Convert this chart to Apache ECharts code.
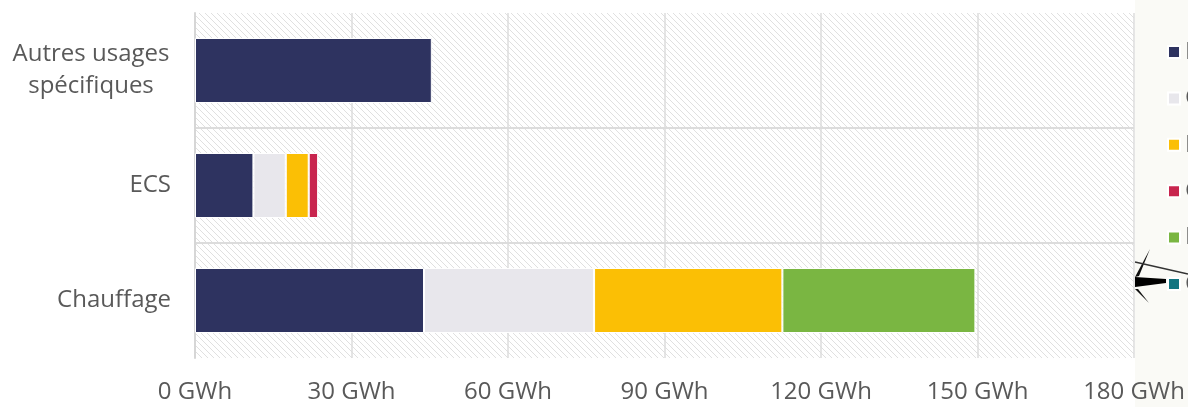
<!DOCTYPE html>
<html>
<head>
<meta charset="utf-8">
<script src="https://cdn.jsdelivr.net/npm/echarts@6/dist/echarts.min.js"></script>
<style>
  html, body { margin: 0; padding: 0; background: #ffffff; }
  #chart { width: 1188px; height: 407px; }
</style>
</head>
<body>
<div id="chart"></div>
<script>
// Consommation d'énergie par usage et par source (GWh)
const categories = ['Chauffage', 'ECS', 'Autres usages\nspécifiques'];
const sourceNames = ['Électricité', 'Gaz naturel', 'Produits pétroliers', 'GPL', 'Bois-énergie', 'Chaleur (réseaux)'];
const sourceColors = ['#2e3360', '#e8e7ec', '#fbbf05', '#c8254e', '#7ab642', '#127580'];
const electricite = [43.9, 11.2, 45.4];
const gazNaturel = [32.6, 6.2, 0];
const produitsPetroliers = [36.1, 4.4, 0];
const gpl = [0, 1.8, 0];
const boisEnergie = [37.0, 0, 0];
const chaleurReseaux = [0, 0, 0];
const xTicks = [0, 30, 60, 90, 120, 150, 180];

const values = [electricite, gazNaturel, produitsPetroliers, gpl, boisEnergie, chaleurReseaux];

// Diagonal hatch used as the plot background
function makeHatch() {
  const c = document.createElement('canvas');
  c.width = 6; c.height = 6;
  const ctx = c.getContext('2d');
  ctx.fillStyle = '#ffffff';
  ctx.fillRect(0, 0, 6, 6);
  ctx.strokeStyle = '#e0e0e0';
  ctx.lineWidth = 1;
  ctx.beginPath();
  ctx.moveTo(-1, -1); ctx.lineTo(7, 7);
  ctx.moveTo(-1, 5); ctx.lineTo(1, 7);
  ctx.moveTo(5, -1); ctx.lineTo(7, 1);
  ctx.stroke();
  return { image: c, repeat: 'repeat' };
}

const font = "'Open Sans', 'Noto Sans', sans-serif";
const chart = echarts.init(document.getElementById('chart'), null, { renderer: 'canvas' });

const series = sourceNames.map((name, i) => ({
  name: name,
  type: 'bar',
  stack: 'total',
  barWidth: 65,
  data: values[i].map(v => (v > 0 ? v : null)),
  itemStyle: { color: sourceColors[i], borderColor: '#ffffff', borderWidth: 1 },
  emphasis: { disabled: true }
}));

// Multi-line category names are centred line by line inside a fixed box
function categoryLabel(value) {
  if (value.indexOf('\n') < 0) return value;
  return value.split('\n').map(line => '{m|' + line + '}').join('\n');
}

chart.setOption({
  animation: false,
  backgroundColor: '#ffffff',
  textStyle: { fontFamily: font },
  graphic: [
    { type: 'rect', left: 1135, top: 0, z: -10, shape: { width: 60, height: 407 }, style: { fill: '#fafaf6' } },
    { type: 'polygon', z: -5, shape: { points: [[1135, 277], [1150, 249], [1139, 276]] }, style: { fill: '#111' } },
    { type: 'polygon', z: -5, shape: { points: [[1135, 277], [1166, 279], [1166, 283], [1135, 287]] }, style: { fill: '#000' } },
    { type: 'polyline', z: -5, shape: { points: [[1135, 262], [1188, 274]] }, style: { stroke: '#333', lineWidth: 1.5 } },
    { type: 'polygon', z: -5, shape: { points: [[1135, 289], [1149, 303], [1138, 289]] }, style: { fill: '#111' } }
  ],
  grid: {
    left: 195, right: 54, top: 13, bottom: 49,
    show: true,
    borderWidth: 0,
    backgroundColor: makeHatch()
  },
  legend: {
    orient: 'vertical',
    left: 1167, top: 40,
    padding: 0,
    itemWidth: 12, itemHeight: 12,
    itemGap: 22.4,
    icon: 'rect',
    selectedMode: false,
    data: sourceNames,
    textStyle: { fontSize: 24, lineHeight: 24, color: '#595959', fontFamily: font }
  },
  xAxis: {
    type: 'value',
    min: xTicks[0], max: xTicks[xTicks.length - 1], interval: 30,
    axisLine: { show: false },
    axisTick: { show: false },
    axisLabel: { fontSize: 24, color: '#595959', margin: 22, formatter: v => v + ' GWh', fontFamily: font },
    splitLine: { show: true, lineStyle: { color: '#dcdcdc', width: 1.5 } }
  },
  yAxis: {
    type: 'category',
    data: categories,
    axisLine: { show: true, lineStyle: { color: '#d6d6d6', width: 2 } },
    axisTick: { show: false },
    axisLabel: {
      fontSize: 24, color: '#595959', margin: 24, lineHeight: 32, align: 'right', fontFamily: font,
      formatter: categoryLabel,
      rich: { m: { width: 160, align: 'center', fontSize: 24, lineHeight: 32, color: '#595959', fontFamily: font } }
    },
    splitLine: { show: true, showMinLine: false, showMaxLine: false, lineStyle: { color: '#dcdcdc', width: 2 } }
  },
  series: series
});
</script>
</body>
</html>
